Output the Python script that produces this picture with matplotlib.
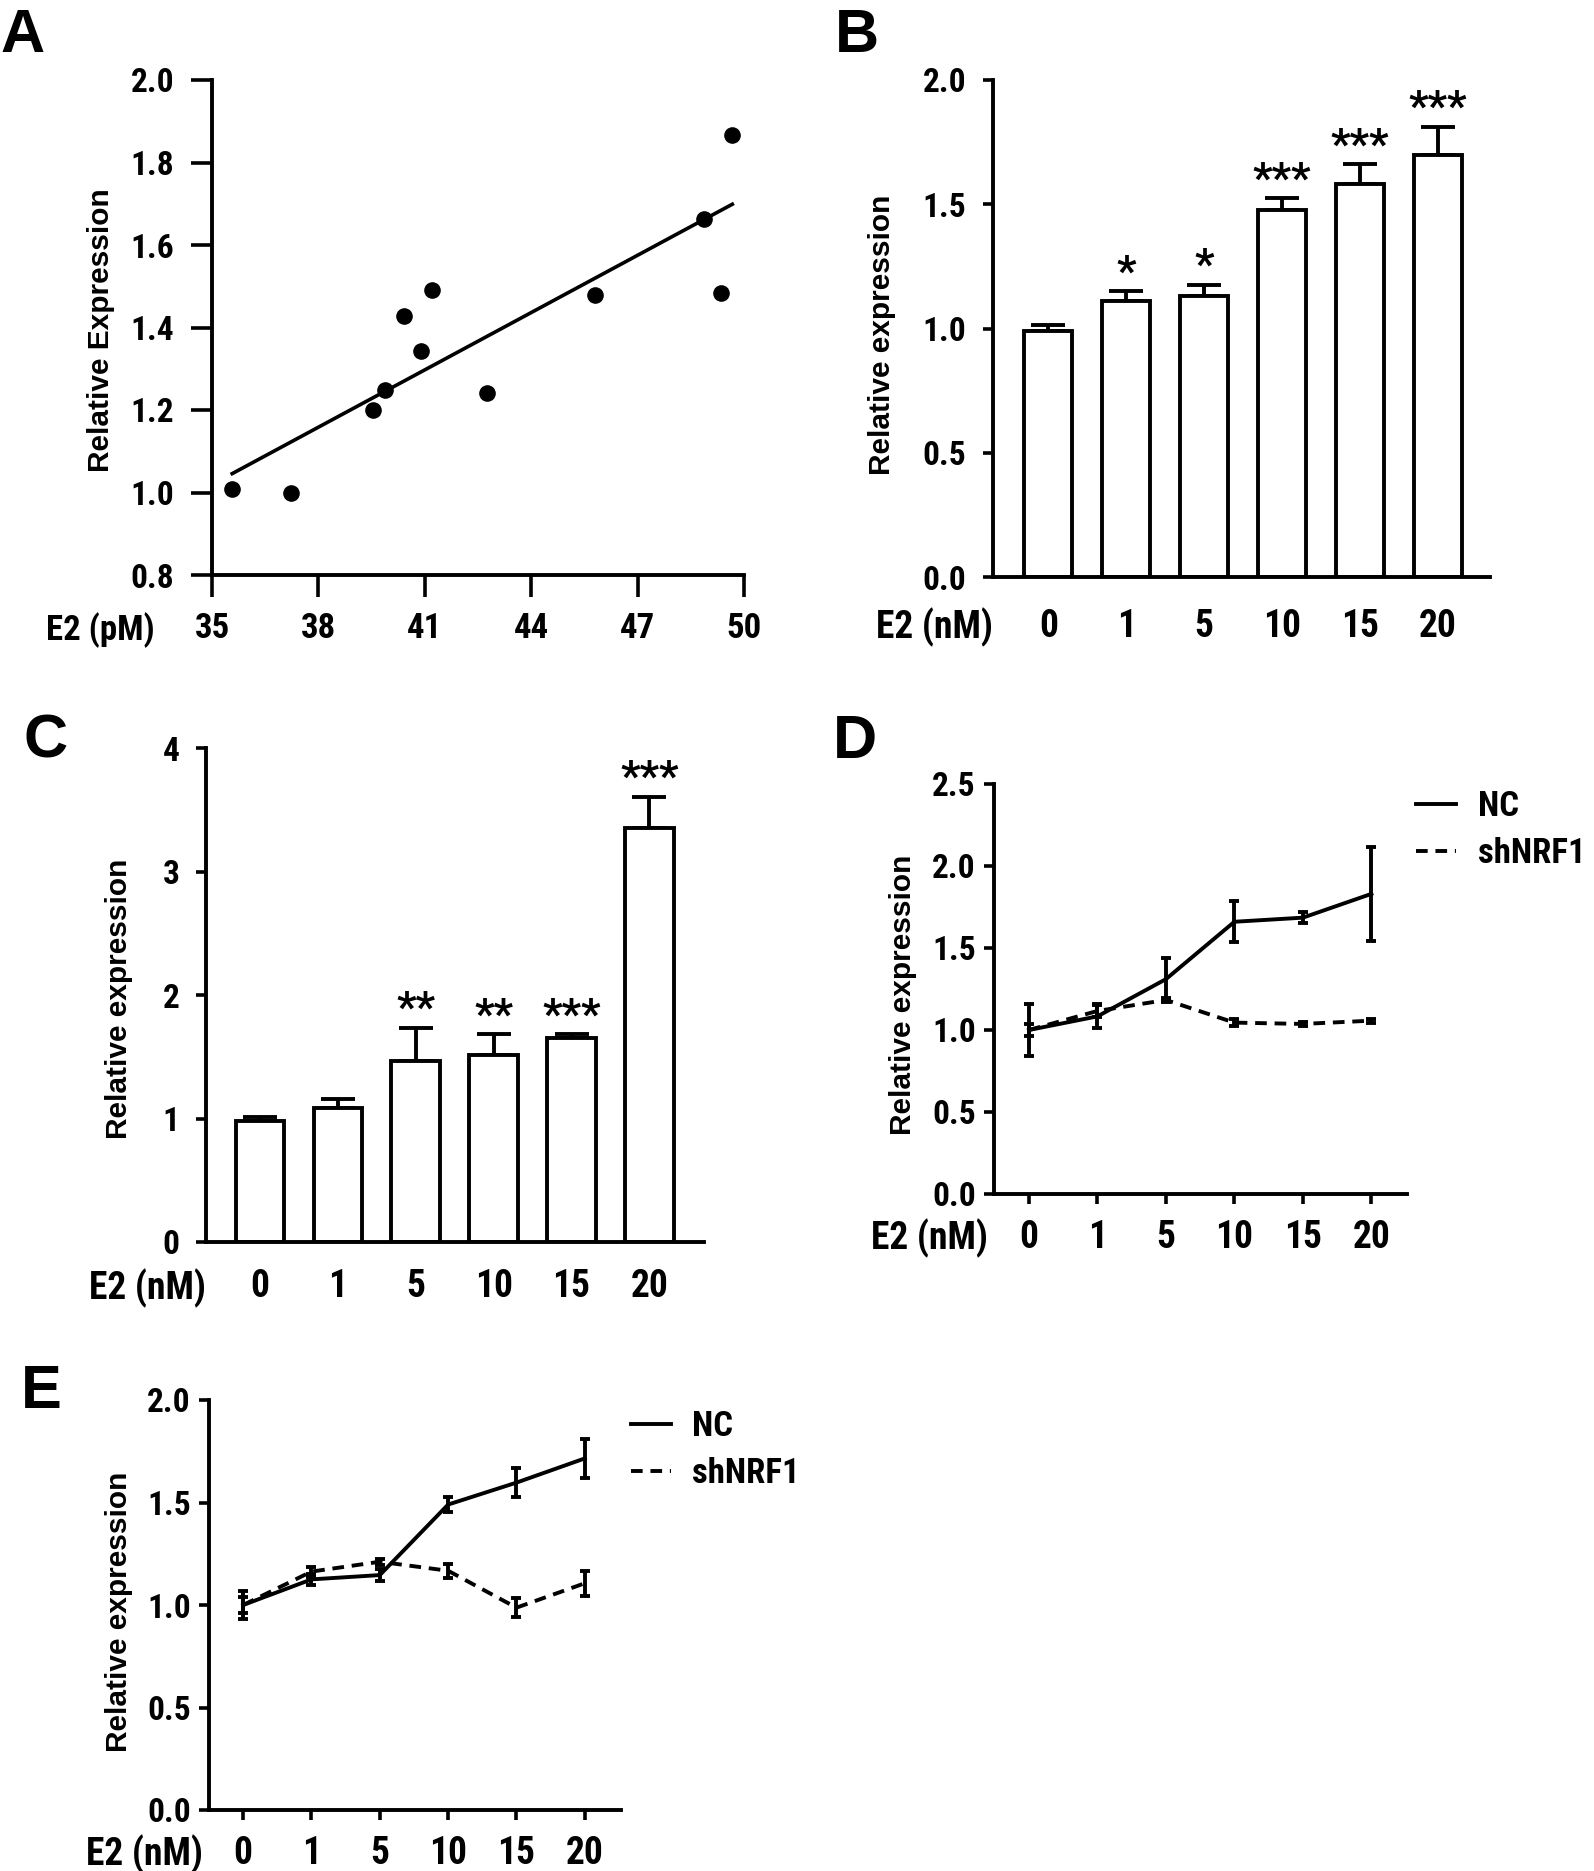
import numpy as np
import matplotlib
matplotlib.use('Agg')
import matplotlib.pyplot as plt
from matplotlib import font_manager as fm
from matplotlib.font_manager import FontProperties

W, H = 1594, 1871

# panel A: serum E2 vs relative expression
a_e2 = [35.57, 37.22, 39.55, 39.89, 40.41, 40.90, 41.19, 42.74, 45.79, 48.88, 49.34, 49.67]
a_expr = [1.009, 0.999, 1.201, 1.249, 1.429, 1.344, 1.490, 1.242, 1.478, 1.662, 1.484, 1.867]

doses = ['0', '1', '5', '10', '15', '20']

# panel B
b_mean = [0.99, 1.112, 1.130, 1.477, 1.580, 1.700]
b_err = [0.025, 0.037, 0.046, 0.047, 0.081, 0.111]
b_stars = ['', '*', '*', '***', '***', '***']

# panel C
c_mean = [0.98, 1.082, 1.466, 1.517, 1.651, 3.35]
c_err = [0.03, 0.076, 0.268, 0.166, 0.03, 0.256]
c_stars = ['', '', '**', '**', '***', '***']

# panel D
d_nc = [1.00, 1.083, 1.31, 1.66, 1.685, 1.83]
d_nc_err = [0.158, 0.073, 0.128, 0.124, 0.035, 0.287]
d_sh = [1.0, 1.116, 1.183, 1.045, 1.037, 1.057]
d_sh_err = [0.035, 0.035, 0.012, 0.02, 0.01, 0.012]

# panel E
e_nc = [1.0, 1.125, 1.146, 1.49, 1.597, 1.715]
e_nc_err = [0.068, 0.025, 0.03, 0.035, 0.07, 0.094]
e_sh = [1.0, 1.163, 1.211, 1.167, 0.987, 1.106]
e_sh_err = [0.04, 0.024, 0.015, 0.034, 0.045, 0.062]


# look for a narrow / condensed bold face, like Arial Narrow in the original
def find_narrow():
    fonts = fm.fontManager.ttflist
    prefs = ['Liberation Sans Narrow', 'Arial Narrow', 'Roboto Condensed',
             'Open Sans Condensed', 'Noto Sans', 'DejaVu Sans', 'Roboto', 'Open Sans']
    for name in prefs:
        for f in fonts:
            is_cond = ('Narrow' in f.name or 'Condensed' in f.name
                       or 'condensed' in str(f.stretch) or 'Condensed' in f.fname)
            w = f.weight if isinstance(f.weight, int) else 700 if 'bold' in str(f.weight) else 400
            if f.name.startswith(name) and is_cond and w >= 600 and 'extra' not in str(f.stretch) \
                    and 'Extra' not in f.fname and 'Italic' not in f.fname and f.style == 'normal':
                return f.fname
    return None


NARROW_FILE = find_narrow()


def nfont(size):
    if NARROW_FILE:
        return FontProperties(fname=NARROW_FILE, size=size)
    return FontProperties(family=['Liberation Sans', 'DejaVu Sans'], weight='bold', size=size)


BOLD = ['Liberation Sans', 'DejaVu Sans']
LW = 2.8

fig = plt.figure(figsize=(W / 100, H / 100), dpi=100)


def make_ax(x0, y0, x1, y1):
    ax = fig.add_axes([x0 / W, 1 - y1 / H, (x1 - x0) / W, (y1 - y0) / H])
    ax.spines['top'].set_visible(False)
    ax.spines['right'].set_visible(False)
    ax.spines['left'].set_linewidth(2.8)
    ax.spines['bottom'].set_linewidth(2.8)
    return ax


def style_ticks(ax, xlen, xpad, ylen, ypad, xsize=27, ysize=24):
    ax.tick_params(axis='x', length=xlen, width=2.6, pad=xpad)
    ax.tick_params(axis='y', length=ylen, width=2.6, pad=ypad)
    for lab in ax.get_xticklabels():
        lab.set_fontproperties(nfont(xsize))
    for lab in ax.get_yticklabels():
        lab.set_fontproperties(nfont(ysize))


def e2_label(ax, text, right_px, xlen, xpad, size=27):
    ax.annotate(text, xy=(0, 0), xycoords='axes fraction',
                xytext=(right_px * 0.72, -(xlen + xpad)), textcoords='offset points',
                ha='right', va='top', fontproperties=nfont(size))


def ylab(text, cx, cy):
    fig.text(cx / W, 1 - cy / H, text, rotation=90, ha='center', va='center',
             fontsize=21.5, fontweight='bold', family=BOLD)


def letter(text, x, y):
    fig.text(x / W, 1 - y / H, text, ha='left', va='top', fontsize=44,
             fontweight='bold', family=BOLD)


# ---- A ----
ax = make_ax(212, 80, 744, 575)
ax.scatter(a_e2, a_expr, s=120, color='k', zorder=3)
k, b = np.polyfit(a_e2, a_expr, 1)
xs = np.array([min(a_e2), max(a_e2)])
ax.plot(xs, k * xs + b, color='k', lw=2.6)
ax.set_xlim(35, 50)
ax.set_ylim(0.8, 2.0)
ax.set_xticks(np.arange(35, 51, 3))
ax.set_yticks(np.arange(0.8, 2.01, 0.2))
ax.set_yticklabels(['%.1f' % v for v in np.arange(0.8, 2.01, 0.2)])
style_ticks(ax, 16, 11, 15, 12, xsize=25, ysize=24)
e2_label(ax, 'E2 (pM)', -57, 16, 11, size=25)
ylab('Relative Expression', 101, 330)
letter('A', 0, 8)


def bar_panel(x0, y0, x1, y1, means, errs, stars, ymax, yticks, ylabels, xlim, xpad):
    ax = make_ax(x0, y0, x1, y1)
    pos = np.arange(len(doses))
    ax.errorbar(pos, means, yerr=[np.zeros(len(errs)), errs], fmt='none',
                ecolor='k', elinewidth=LW, capsize=12, capthick=LW, zorder=1)
    ax.bar(pos, means, width=0.62, color='white', edgecolor='k', linewidth=LW, zorder=2)
    for i, s in enumerate(stars):
        if s:
            ax.annotate(s, xy=(i, means[i] + errs[i]), xytext=(0, 5),
                        textcoords='offset points', ha='center', va='baseline',
                        fontproperties=nfont(31))
    ax.set_xlim(*xlim)
    ax.set_ylim(0, ymax)
    ax.set_xticks(pos)
    ax.set_xticklabels(doses)
    ax.set_yticks(yticks)
    ax.set_yticklabels(ylabels)
    style_ticks(ax, 0, xpad, 7, 12)
    e2_label(ax, 'E2 (nM)', 0, 0, xpad)
    return ax


# ---- B ----
bar_panel(993, 80, 1490, 577, b_mean, b_err, b_stars, 2.0,
          [0, 0.5, 1.0, 1.5, 2.0], ['0.0', '0.5', '1.0', '1.5', '2.0'],
          (-0.71, 5.67), 22)
ylab('Relative expression', 882, 335)
letter('B', 835, 8)

# ---- C ----
bar_panel(206, 748, 704, 1242, c_mean, c_err, c_stars, 4,
          [0, 1, 2, 3, 4], ['0', '1', '2', '3', '4'],
          (-0.69, 5.70), 19)
ylab('Relative expression', 119, 999)
letter('C', 24, 714)


def line_panel(x0, y0, x1, y1, nc, nc_err, sh, sh_err, ymax, yticks, xlim, leg_xy):
    ax = make_ax(x0, y0, x1, y1)
    pos = np.arange(len(doses))
    l1, = ax.plot(pos, nc, color='k', lw=LW, label='NC')
    l2, = ax.plot(pos, sh, color='k', lw=LW, dashes=(3.0, 2.0), label='shNRF1')
    ax.errorbar(pos, nc, yerr=nc_err, fmt='none', ecolor='k', elinewidth=LW,
                capsize=3.5, capthick=LW)
    ax.errorbar(pos, sh, yerr=sh_err, fmt='none', ecolor='k', elinewidth=LW,
                capsize=3.5, capthick=LW)
    ax.set_xlim(*xlim)
    ax.set_ylim(0, ymax)
    ax.set_xticks(pos)
    ax.set_xticklabels(doses)
    ax.set_yticks(yticks)
    ax.set_yticklabels(['%.1f' % v for v in yticks])
    style_ticks(ax, 7, 11, 7, 6)
    e2_label(ax, 'E2 (nM)', -6, 7, 11)
    ax.legend(handles=[l1, l2], loc='upper left', bbox_to_anchor=leg_xy,
              frameon=False, prop=nfont(25), handlelength=1.15, handletextpad=0.62,
              labelspacing=0.4, borderpad=0, borderaxespad=0)
    return ax


# ---- D ----
line_panel(994, 784, 1407, 1194, d_nc, d_nc_err, d_sh, d_sh_err, 2.5,
           [0, 0.5, 1.0, 1.5, 2.0, 2.5], (-0.51, 5.52), (1.022, 0.985))
ylab('Relative expression', 903, 995)
letter('D', 833, 714)

# ---- E ----
line_panel(209, 1400, 621, 1810, e_nc, e_nc_err, e_sh, e_sh_err, 2.0,
           [0, 0.5, 1.0, 1.5, 2.0], (-0.5, 5.53), (1.024, 0.976))
ylab('Relative expression', 119, 1612)
letter('E', 21, 1364)

fig.savefig('out.png', dpi=100)
